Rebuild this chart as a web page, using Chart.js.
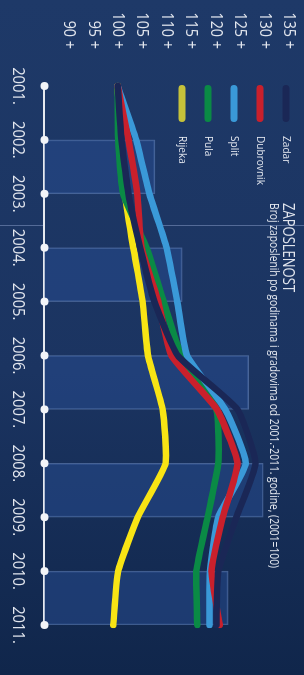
<!DOCTYPE html>
<html><head><meta charset="utf-8">
<script src="https://cdn.jsdelivr.net/npm/chart.js@4"></script>
<style>
html,body{margin:0;padding:0;width:304px;height:675px;overflow:hidden;}
body{background:linear-gradient(180deg,#1e3968 0%,#1b3461 55%,#10264b 100%);}
#wrap{position:absolute;left:0;top:0;width:675px;height:304px;transform-origin:0 0;transform:translate(304px,0) rotate(90deg);}
</style></head><body>
<div id="wrap"><canvas id="c" width="675" height="304"></canvas></div>
<script>
const years = ['2001.','2002.','2003.','2004.','2005.','2006.','2007.','2008.','2009.','2010.','2011.'];
const intervals = ['2001-02','2002-03','2003-04','2004-05','2005-06','2006-07','2007-08','2008-09','2009-10','2010-11'];
const yTicks = [90, 95, 100, 105, 110, 115, 120, 125, 130, 135];
const yTickLabels = ['90 +','95 +','100 +','105 +','110 +','115 +','120 +','125 +','130 +','135 +'];
const zadar     = [100, 100.8, 102.2, 104.6, 107.5, 112.3, 124.5, 128.2, 124.3, 120.6, 120.2];
const dubrovnik = [100, 102.2, 104.0, 104.9, 108.3, 111.0, 120.3, 124.5, 121.5, 119.2, 120.9];
const split     = [100, 103.8, 106.5, 110.0, 112.2, 114.2, 122.0, 126.2, 120.6, 118.9, 118.8];
const pula      = [100, 100.1, 101.1, 105.9, 109.4, 113.0, 120.2, 120.6, 118.4, 116.1, 116.3];
const rijeka    = [100, 100.5, 101.5, 103.2, 105.1, 106.2, 109.2, 109.8, 104.1, 100.1, 99.1];
const bands     = [null, 107.6, null, 113.2, null, 126.8, null, 129.8, null, 122.6];
const seriesNames = ['Zadar','Dubrovnik','Split','Pula','Rijeka'];
const titleText = 'ZAPOSLENOST';
const subtitleText = 'Broj zaposlenih po godinama i gradovima od 2001.-2011. godine, (2001=100)';

const FONT = "'Open Sans','Liberation Sans',sans-serif";
const TXT = '#e2e6ee';
const K = 0.87; // condensed look

function txt(c, s, x, y, size, align, k){
  c.save();
  c.translate(x, y); c.scale(k || K, 1);
  c.font = size + 'px ' + FONT; c.textAlign = align; c.textBaseline = 'middle';
  c.fillStyle = TXT; c.fillText(s, 0, 0);
  c.restore();
}

function lineDs(label, data, color, swatch, order){
  return {type:'line', label, data, borderColor:color, swatch:swatch||color, borderWidth:6.5,
    borderCapStyle:'round', borderJoinStyle:'round', pointRadius:0, tension:0.15,
    xAxisID:'x', yAxisID:'y', order, fill:false};
}

const decor = {
  id:'decor',
  beforeDraw(chart){
    const c = chart.ctx;
    c.save();
    c.strokeStyle = 'rgba(130,150,195,0.55)';
    c.lineWidth = 1;
    c.beginPath();
    c.moveTo(225.5, 0); c.lineTo(225.5, 144);
    c.moveTo(225.5, 259); c.lineTo(225.5, 304);
    c.stroke();
    c.restore();
  },
  afterDraw(chart){
    const c = chart.ctx, xs = chart.scales.x, ys = chart.scales.y, ca = chart.chartArea;
    c.save();
    c.fillStyle = '#f2f4f8';
    years.forEach((lab,i)=>{
      const px = xs.getPixelForValue(i);
      c.beginPath(); c.arc(px, ca.bottom, 4, 0, Math.PI*2); c.fill();
      txt(c, lab, px, ca.bottom + 27, 17, 'center');
    });
    yTicks.forEach((v,i)=>{
      txt(c, yTickLabels[i], ca.left - 37, ys.getPixelForValue(v), 16.5, 'right');
    });
    const lines = chart.data.datasets.filter(d=>d.type==='line');
    lines.forEach((d,i)=>{
      const v = 18 + 26*i;
      c.strokeStyle = d.swatch; c.lineWidth = 7; c.lineCap = 'round';
      c.beginPath(); c.moveTo(88.5, v); c.lineTo(118.5, v); c.stroke();
      txt(c, d.label, 136, v, 11.6, 'left');
    });
    txt(c, titleText, 203, 16.5, 15.5, 'left', 0.84);
    txt(c, subtitleText, 203, 30.5, 11.8, 'left');
    c.restore();
  }
};

new Chart(document.getElementById('c'), {
  type:'line',
  data:{
    labels: years,
    datasets:[
      lineDs(seriesNames[0], zadar, '#1a2756', null, 0),
      lineDs(seriesNames[1], dubrovnik, '#c9202c', null, 1),
      lineDs(seriesNames[2], split, '#3a99d8', null, 2),
      lineDs(seriesNames[3], pula, '#0a8a45', null, 3),
      lineDs(seriesNames[4], rijeka, '#f8e414', '#c6c23a', 4),
      {type:'bar', label:'bands', data:bands, xAxisID:'xb', yAxisID:'y', order:10, grouped:false,
       backgroundColor:'rgba(36,72,140,0.55)', borderColor:'rgba(110,140,195,0.55)', borderWidth:1,
       barPercentage:1, categoryPercentage:1}
    ]
  },
  options:{
    responsive:false, animation:false, devicePixelRatio:1,
    layout:{autoPadding:false, padding:{top:15.3, right:50, left:0, bottom:0}},
    plugins:{legend:{display:false}, tooltip:{enabled:false}},
    scales:{
      x:{type:'category', labels:years, offset:false,
         grid:{display:false, drawTicks:false},
         border:{display:true, color:'#e6e9ef', width:2},
         ticks:{display:false},
         afterFit(s){ s.height = 44.4; s.paddingLeft = 0; s.paddingRight = 0; }},
      xb:{type:'category', labels:intervals, offset:true, display:false, position:'bottom', grid:{display:false}},
      y:{min:85, max:135,
         grid:{display:false, drawTicks:false}, border:{display:false},
         ticks:{display:false, stepSize:5},
         afterFit(s){ s.width = 86; s.paddingTop = 0; s.paddingBottom = 0; }}
    }
  },
  plugins:[decor]
});
</script>
</body></html>
